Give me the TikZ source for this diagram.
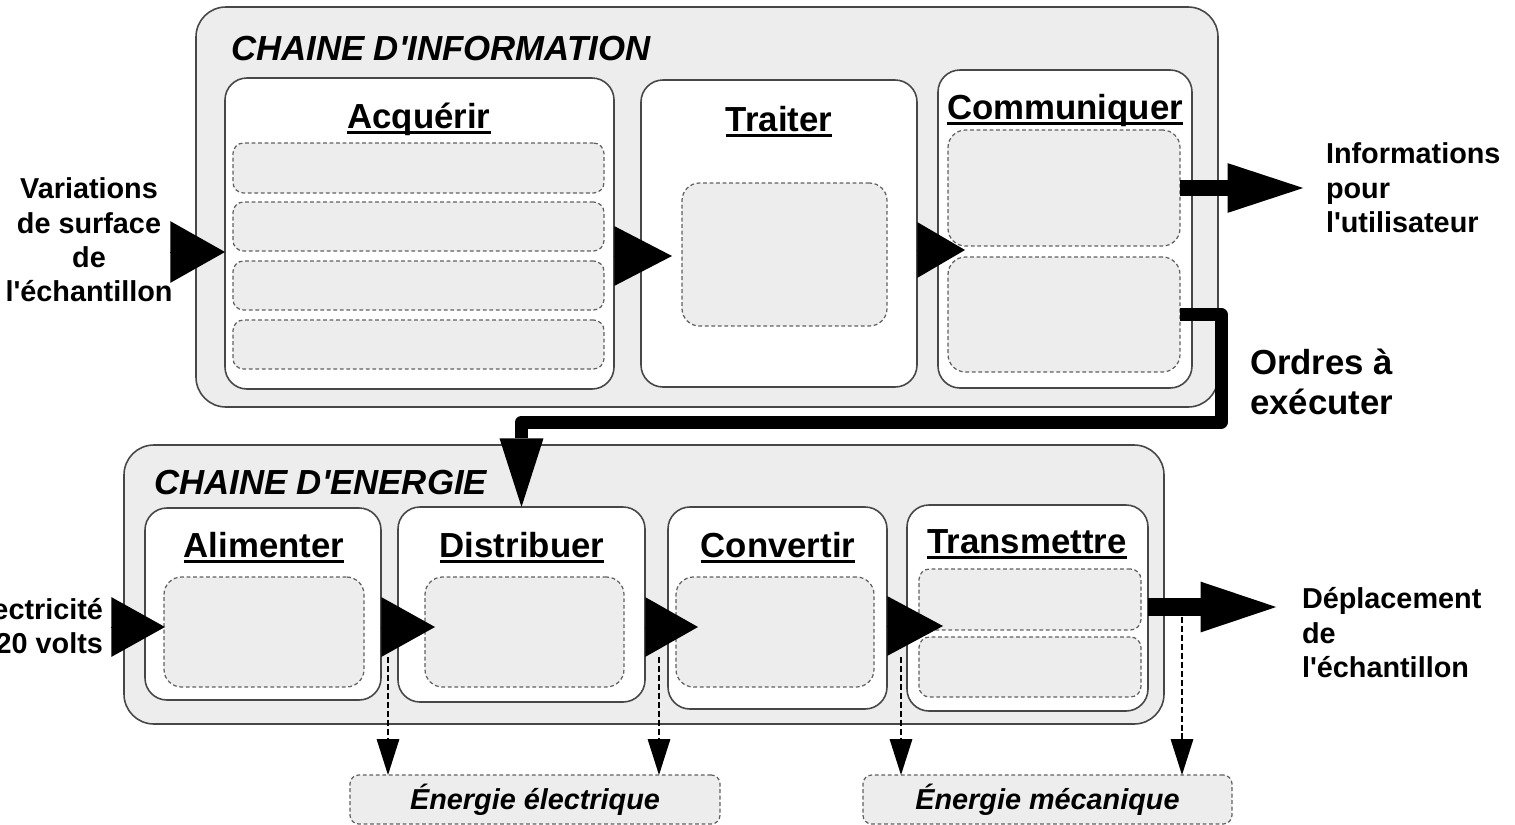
\documentclass[tikz,border=0pt]{standalone}
\usepackage{fontspec}
\setmainfont{Liberation Sans}
\usetikzlibrary{arrows.meta,calc}

% underlined heading with a fixed rule position
\newcommand\ulined[1]{{\setbox0=\hbox{#1}\rlap{\rule[-0.16em]{\wd0}{0.075em}}\box0}}
% straight apostrophe
\newcommand\ap{\textquotesingle}
% rectangle node given by its corners: name, style, x1, y1, x2, y2, text
\newcommand\boxat[7]{\node[#2, minimum width={(#5-#3)*0.02cm}, minimum height={(#6-#4)*0.02cm}] (#1) at ({(#3+#5)/2},{(#4+#6)/2}) {#7};}

\tikzset{
  every node/.style={inner sep=0pt, outer sep=0pt},
  bigfont/.style={font=\fontsize{19.8}{22.7}\selectfont\bfseries},
  smallfont/.style={font=\fontsize{16.4}{19.6}\selectfont\bfseries},
  titlefont/.style={font=\fontsize{19.8}{22.7}\selectfont\bfseries\itshape},
  chainbox/.style={draw=black!72, fill=black!7, line width=0.9pt, rounded corners=17pt},
  stagebox/.style={draw=black!72, fill=white, line width=0.9pt, rounded corners=12.5pt},
  slotbox/.style={draw=black!62, fill=black!7, line width=0.7pt, dash pattern=on 2.2pt off 1.5pt, rounded corners=#1},
  slotbox/.default=6pt,
  energybox/.style={draw=black!62, fill=black!7, line width=0.7pt, dash pattern=on 2.2pt off 1.5pt, rounded corners=5pt,
    font=\fontsize{16.4}{19.6}\selectfont\bfseries\itshape},
  tritip/.style 2 args={line width=0.1pt, -{Triangle[length=#1, width=#2, line width=0pt]}},
  flowout/.style 2 args={line width=#1, -{Triangle[length=43pt, width=#2, line width=0pt]}},
  orderline/.style={line width=7.4pt, line join=round, -{Triangle[length=39pt, width=25pt, line width=0pt]}},
  dasharrow/.style={line width=0.7pt, dash pattern=on 3.4pt off 1.7pt, -{Triangle[length=20.4pt, width=13pt, line width=0pt]}},
}

\begin{document}
\begin{tikzpicture}[x=0.02cm, y=-0.02cm]
\useasboundingbox (0,0) rectangle (1515,825);

% ---------- information chain ----------
\boxat{ichain}{chainbox}{196}{7}{1218}{407}{}
\node[titlefont, anchor=base west] (ititle) at (231,60) {CHAINE D\ap INFORMATION};

\boxat{acq}{stagebox}{225}{78}{614}{389}{}
\boxat{acq1}{slotbox}{233}{143}{604}{193}{}
\boxat{acq2}{slotbox}{233}{202}{604}{251}{}
\boxat{acq3}{slotbox}{233}{261}{604}{310}{}
\boxat{acq4}{slotbox}{233}{320}{604}{369}{}
\node[bigfont, anchor=base] (lacq) at (419,128) {\ulined{Acquérir}};

\boxat{trt}{stagebox}{641}{80}{917}{387}{}
\boxat{trt1}{slotbox=10pt}{682}{183}{887}{326}{}
\node[bigfont, anchor=base] (ltrt) at (779,131) {\ulined{Traiter}};

\boxat{com}{stagebox}{938}{70}{1192}{388}{}
\boxat{com1}{slotbox=10pt}{948}{130}{1180}{246}{}
\boxat{com2}{slotbox=10pt}{948}{257}{1180}{372}{}
\node[bigfont, anchor=base] (lcom) at (1065,119) {\ulined{Communiquer}};

% ---------- energy chain ----------
\boxat{echain}{chainbox}{124}{445}{1164}{724}{}
\node[titlefont, anchor=base west] (etitle) at (154,494) {CHAINE D\ap ENERGIE};

\boxat{ali}{stagebox}{145}{508}{381}{700}{}
\boxat{ali1}{slotbox=10pt}{164}{577}{364}{687}{}
\node[bigfont, anchor=base] (lali) at (264,557) {\ulined{Alimenter}};

\boxat{dis}{stagebox}{398}{507}{645}{702}{}
\boxat{dis1}{slotbox=10pt}{425}{577}{624}{687}{}
\node[bigfont, anchor=base] (ldis) at (522,557) {\ulined{Distribuer}};

\boxat{cnv}{stagebox}{668}{507}{887}{709}{}
\boxat{cnv1}{slotbox=10pt}{676}{577}{874}{687}{}
\node[bigfont, anchor=base] (lcnv) at (778,557) {\ulined{Convertir}};

\boxat{trm}{stagebox}{907}{505}{1148}{711}{}
\boxat{trm1}{slotbox}{919}{569}{1141}{630}{}
\boxat{trm2}{slotbox}{919}{637}{1141}{697}{}
\node[bigfont, anchor=base] (ltrm) at (1027,553) {\ulined{Transmettre}};

% ---------- energy outputs ----------
\boxat{eel}{energybox}{350}{775}{720}{824}{Énergie électrique}
\boxat{emc}{energybox}{863}{775}{1232}{824}{Énergie mécanique}

% ---------- outside labels ----------
\node[smallfont, align=center] (var) at (89,240) {Variations\\de surface\\de\\l\ap échantillon};
\node[smallfont, align=left, anchor=west] (info) at (1326,188) {Informations\\pour\\l\ap utilisateur};
\node[bigfont, align=left, anchor=west] (ord) at (1250,382) {Ordres à\\exécuter};
\node[smallfont, align=right, anchor=east] (elec) at (103,624) {Électricité\\220 volts};
\node[smallfont, align=left, anchor=west] (depl) at (1302,633) {Déplacement\\de\\l\ap échantillon};

% ---------- flow arrows ----------
\coordinate (tA) at (170,252);
\coordinate (tB) at (672,256);
\coordinate (tC) at (965,250);
\coordinate (tE1) at (165,627);
\coordinate (tE2) at (435,627);
\coordinate (tE3) at (698,627);
\coordinate (tE4) at (943,626);

\draw[tritip={31.1pt}{35.1pt}] (tA) -- (tA -| acq.west);
\draw[tritip={32.8pt}{34pt}] (acq.east |- tB) -- (tB);
\draw[tritip={27.1pt}{31.7pt}] (trt.east |- tC) -- (tC);
\draw[tritip={30.5pt}{34pt}, shorten <=4.5pt] (elec.east |- tE1) -- (tE1);
\draw[tritip={30.5pt}{34pt}] (ali.east |- tE2) -- (tE2);
\draw[tritip={30pt}{34pt}] (dis.east |- tE3) -- (tE3);
\draw[tritip={31.7pt}{34pt}] (cnv.east |- tE4) -- (tE4);

% information to the user
\coordinate (io) at (com1.east);
\draw[flowout={9pt}{28.3pt}, shorten >=13pt] (io) -- (io -| info.west);

% orders sent to the energy chain
\coordinate (ordx) at (1221,422);
\draw[orderline] (com2.east) -- (com2.east -| ordx) -- (ordx) -- (dis.north |- ordx) -- (dis.north);

% displacement of the sample
\coordinate (eo) at (1148,607);
\draw[flowout={10.2pt}{28.9pt}, shorten >=14.7pt] (eo) -- (eo -| depl.west);

% energy taps
\coordinate (d1) at (388,657);
\coordinate (d2) at (659,657);
\coordinate (d3) at (901,657);
\coordinate (d4) at (1182,617);
\draw[dasharrow] (d1) -- (d1 |- eel.north);
\draw[dasharrow] (d2) -- (d2 |- eel.north);
\draw[dasharrow] (d3) -- (d3 |- emc.north);
\draw[dasharrow] (d4) -- (d4 |- emc.north);
\end{tikzpicture}
\end{document}
